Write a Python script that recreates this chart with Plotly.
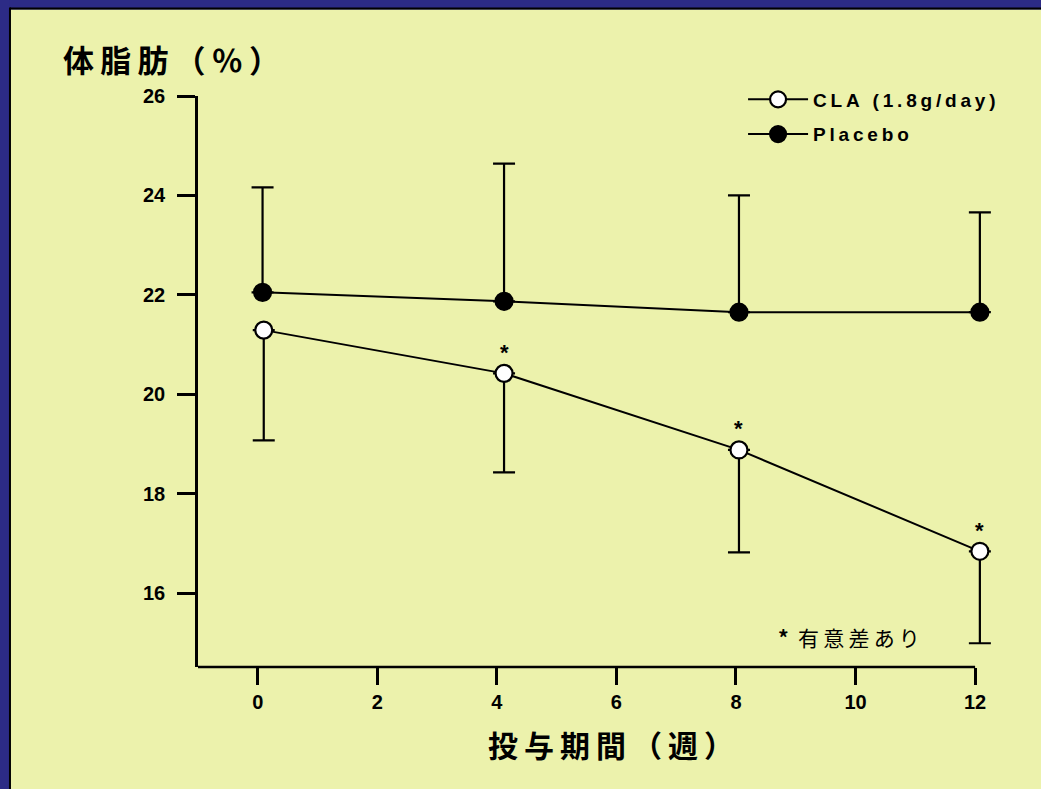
import plotly.graph_objects as go

# Data
weeks_cla = [0.1, 4.12, 8.05, 12.08]
cla_values = [21.29, 20.42, 18.88, 16.84]
cla_err_minus = [2.22, 1.99, 2.06, 1.85]

weeks_placebo = [0.08, 4.12, 8.05, 12.08]
placebo_values = [22.05, 21.87, 21.65, 21.65]
placebo_err_plus = [2.11, 2.77, 2.35, 2.01]

significant = [False, True, True, True]

x_ticks = [0, 2, 4, 6, 8, 10, 12]
y_ticks = [16, 18, 20, 22, 24, 26]
x_min, x_axis_end, x_max = -1, 12, 12.4

W, H = 1041, 789
L, T, B = 198, 95.5, 122
px_per_unit = (975 - 198) / (x_axis_end - x_min)
pw = px_per_unit * (x_max - x_min)
R = W - L - pw
ph = H - T - B

def px(x):
    return (x - L) / pw

def py(y):
    return (H - B - y) / ph

NUM_FONT = "Liberation Sans, Arial, sans-serif"
CJK_FONT = "Noto Sans CJK JP, sans-serif"
YELLOW = "#ECF2AC"
NAVY = "#2C2B86"
TS = "\u2009"

fig = go.Figure()

fig.add_trace(go.Scatter(
    x=weeks_cla, y=cla_values, name=TS.join("CLA (1.8g/day)"),
    legendgroup="cla",
    mode="lines+markers",
    line=dict(color="black", width=2),
    marker=dict(symbol="circle", size=17, color="white", line=dict(color="black", width=2.2)),
    error_y=dict(type="data", symmetric=False, array=[0] * 4, arrayminus=cla_err_minus,
                 color="black", thickness=2.2, width=11),
    cliponaxis=False,
))
fig.add_trace(go.Scatter(
    x=weeks_placebo, y=placebo_values, name=TS.join("Placebo"),
    legendgroup="placebo",
    mode="lines+markers",
    line=dict(color="black", width=2),
    marker=dict(symbol="circle", size=17, color="black", line=dict(color="black", width=2.2)),
    error_y=dict(type="data", symmetric=False, array=placebo_err_plus, arrayminus=[0] * 4,
                 color="black", thickness=2.2, width=11),
    cliponaxis=False,
))

# significance asterisks above CLA points
for xv, yv, sig in zip(weeks_cla, cla_values, significant):
    if sig:
        fig.add_annotation(x=xv, y=yv, text="*", showarrow=False, yshift=21,
                           font=dict(family=NUM_FONT, size=22, color="black", weight="bold"))

# navy frame on the top and left edges, with a thin black inner edge
fig.add_shape(type="rect", xref="paper", yref="paper",
              x0=px(-20), x1=px(W + 20), y0=py(9), y1=py(-20),
              fillcolor=NAVY, line=dict(width=0), layer="below")
fig.add_shape(type="rect", xref="paper", yref="paper",
              x0=px(-20), x1=px(10), y0=py(H + 20), y1=py(-20),
              fillcolor=NAVY, line=dict(width=0), layer="below")
fig.add_shape(type="line", xref="paper", yref="paper",
              x0=px(10), x1=px(W + 20), y0=py(8), y1=py(8),
              line=dict(color="black", width=2), layer="below")
fig.add_shape(type="line", xref="paper", yref="paper",
              x0=px(10), x1=px(10), y0=py(7), y1=py(H + 20),
              line=dict(color="black", width=2), layer="below")

# x axis line (ends at the last tick)
fig.add_shape(type="line", xref="x", yref="paper", x0=x_min, x1=x_axis_end, y0=0, y1=0,
              line=dict(color="black", width=2.5))

# axis titles
fig.add_annotation(xref="paper", yref="paper", x=px(61), y=py(58), xanchor="left", yanchor="middle",
                   text=TS.join("体脂肪（％）"), showarrow=False,
                   font=dict(family=CJK_FONT, size=31, color="black", weight="bold"))
fig.add_annotation(xref="paper", yref="paper", x=px(486), y=py(744), xanchor="left", yanchor="middle",
                   text=TS.join("投与期間（週）"), showarrow=False,
                   font=dict(family=CJK_FONT, size=30, color="black", weight="bold"))

# note
fig.add_annotation(xref="paper", yref="paper", x=px(776), y=py(637), xanchor="left", yanchor="middle",
                   text="<b>*</b>  " + TS.join("有意差あり"), showarrow=False,
                   font=dict(family=CJK_FONT, size=21, color="black"))

fig.update_layout(
    width=W, height=H,
    margin=dict(l=L, r=R, t=T, b=B, pad=0),
    paper_bgcolor=YELLOW,
    plot_bgcolor="rgba(0,0,0,0)",
    showlegend=True,
    legend=dict(x=px(743), y=py(80), xanchor="left", yanchor="top",
                bgcolor="rgba(0,0,0,0)",
                font=dict(family=NUM_FONT, size=19, color="black", weight="bold"),
                itemsizing="trace", itemwidth=60, tracegroupgap=7),
    xaxis=dict(range=[x_min, x_max], tickvals=x_ticks, ticktext=[str(v) for v in x_ticks],
               showgrid=False, zeroline=False, showline=False,
               ticks="outside", ticklen=17, tickwidth=2.5, tickcolor="black",
               tickfont=dict(family=NUM_FONT, size=20, color="black", weight="bold")),
    yaxis=dict(range=[26 - ph / 49.75, 26], tickvals=y_ticks, ticktext=[str(v) for v in y_ticks],
               showgrid=False, zeroline=False, showline=True, linecolor="black", linewidth=2.5,
               ticks="outside", ticklen=18, tickwidth=2.5, tickcolor="black",
               ticklabelstandoff=8,
               tickfont=dict(family=NUM_FONT, size=20, color="black", weight="bold")),
)

fig.write_html(
    "out.html",
    config={"displayModeBar": False},
    post_script=(
        "document.documentElement.style.overflow='hidden';"
        "document.documentElement.style.background='" + YELLOW + "';"
        "document.body.style.overflow='hidden';"
        "document.body.style.background='" + YELLOW + "';"
        "document.body.style.margin='0';"
    ),
)
